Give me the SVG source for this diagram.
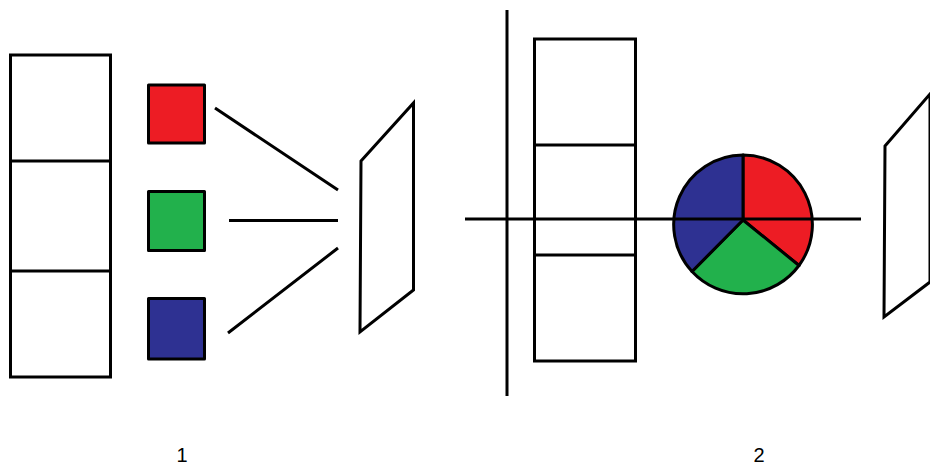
<svg xmlns="http://www.w3.org/2000/svg" width="930" height="468" viewBox="0 0 930 468">
<style>
.b{fill:#fff;stroke:#000;stroke-width:3}
.l{stroke:#000;stroke-width:3;fill:none}
.w{stroke:#000;stroke-width:3;stroke-linejoin:round}
text{font-family:"Liberation Sans",Arial,sans-serif;font-size:20px;fill:#000;text-anchor:middle}
</style>
<rect width="930" height="468" fill="#fff"/>
<g id="stack-1"><rect class="b" x="10.500" y="55" width="100" height="322"/><path class="l" d="M10 161H111M10 271H111"/></g>
<g id="red"><rect class="w" x="148.500" y="85" width="56" height="58" fill="#ed1c24"/></g>
<g id="green"><rect class="w" x="148.500" y="191.500" width="56" height="59" fill="#22b14c"/></g>
<g id="blue"><rect class="w" x="148.500" y="298.500" width="56" height="60.500" fill="#2e3192"/></g>
<g id="connectors"><path class="l" d="M215 108L338 190M229 220.500H338M228 333L338 248"/></g>
<g id="plane-1"><path class="b" d="M361 161L413.500 103V290L360 332Z"/></g>
<g id="axis"><path class="l" d="M507 10V396"/></g>
<g id="stack-2"><rect class="b" x="534.500" y="39" width="101" height="322"/><path class="l" d="M534 145H636M534 255H636"/></g>
<g id="pie">
<path class="w" d="M743 220V155A69.500 69.500 0 0 1 799 265.500Z" fill="#ed1c24"/>
<path class="w" d="M743 220L799 265.500A69.500 69.500 0 0 1 692 271.500Z" fill="#22b14c"/>
<path class="w" d="M743 220L692 271.500A69.500 69.500 0 0 1 743 155Z" fill="#2e3192"/>
</g>
<g id="beam"><path class="l" d="M465 219H861"/></g>
<g id="plane-2"><path class="b" d="M885 146L930 94V282L884 317Z"/></g>
<text x="182" y="462">1</text>
<text x="759" y="462">2</text>
</svg>
